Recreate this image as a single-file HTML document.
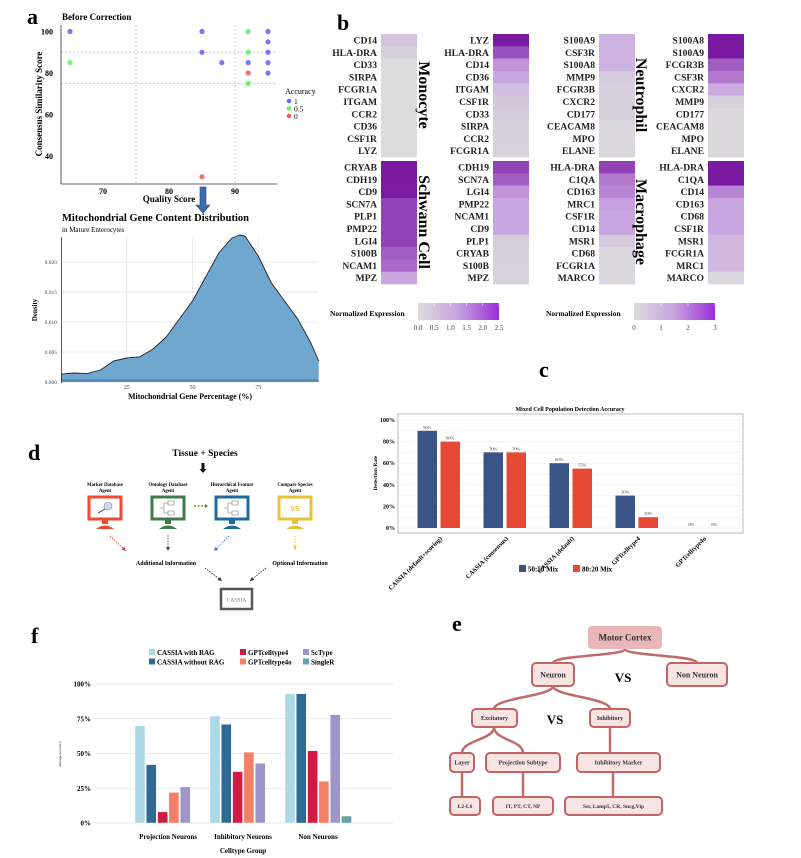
<!DOCTYPE html>
<html><head><meta charset="utf-8">
<style>
html,body{margin:0;padding:0;background:#fff;}
svg{display:block;font-family:"Liberation Serif",serif;}
.b{font-weight:bold;}
</style></head>
<body>
<svg id="fig" width="801" height="858" viewBox="0 0 801 858" xmlns="http://www.w3.org/2000/svg">
<text x="27" y="24" font-size="22" class="b">a</text>
<text x="337" y="30" font-size="22" class="b">b</text>
<text x="539" y="377" font-size="22" class="b">c</text>
<text x="28" y="460" font-size="22" class="b">d</text>
<text x="452" y="631" font-size="22" class="b">e</text>
<text x="31" y="643" font-size="22" class="b">f</text>

<g id="scatter"></g>
<g id="density"></g>
<g id="heat"></g>
<g id="barc"></g>
<g id="diagd"></g>
<g id="barf"></g>
<g id="treee"></g>
</svg>
<script>
// ===== data =====
const scatterX = [65,65,85,85,88,85,92,92,92,92,92,95,95,95,95,95];
const scatterY = [100,85,100,90,85,30,100,90,85,80,75,100,95,90,85,80];
const scatterAcc = [1,0.5,1,1,1,0,0.5,0.5,1,0,0.5,1,1,1,1,1];
const scatterXTicks = [70,80,90];
const scatterYTicks = [40,60,80,100];

const densX = [0,5,10,15,20,25,30,35,40,45,50,55,60,65,68,70,75,80,85,90,95,98];
const densY = [0.0013,0.0015,0.0014,0.002,0.0035,0.004,0.0042,0.0055,0.0075,0.0105,0.0135,0.0175,0.0215,0.024,0.0245,0.0243,0.021,0.0165,0.0135,0.0105,0.0065,0.0035];
const densXTicks = [25,50,75];
const densYTicks = [0,0.005,0.01,0.015,0.02];

const hmGenes = [
 ["CD14","HLA-DRA","CD33","SIRPA","FCGR1A","ITGAM","CCR2","CD36","CSF1R","LYZ"],
 ["LYZ","HLA-DRA","CD14","CD36","ITGAM","CSF1R","CD33","SIRPA","CCR2","FCGR1A"],
 ["S100A9","CSF3R","S100A8","MMP9","FCGR3B","CXCR2","CD177","CEACAM8","MPO","ELANE"],
 ["S100A8","S100A9","FCGR3B","CSF3R","CXCR2","MMP9","CD177","CEACAM8","MPO","ELANE"],
 ["CRYAB","CDH19","CD9","SCN7A","PLP1","PMP22","LGI4","S100B","NCAM1","MPZ"],
 ["CDH19","SCN7A","LGI4","PMP22","NCAM1","CD9","PLP1","CRYAB","S100B","MPZ"],
 ["HLA-DRA","C1QA","CD163","MRC1","CSF1R","CD14","MSR1","CD68","FCGR1A","MARCO"],
 ["HLA-DRA","C1QA","CD14","CD163","CD68","CSF1R","MSR1","FCGR1A","MRC1","MARCO"]];
const hmValues = [
 [0.2,0.1,0,0,0,0,0,0,0,0],
 [1,0.8,0.55,0.45,0.25,0.18,0.15,0.1,0.1,0.08],
 [0.35,0.35,0.35,0.15,0.1,0.1,0.1,0.05,0.05,0.05],
 [1,1,0.75,0.65,0.4,0.1,0.03,0.03,0.03,0.03],
 [1,1,1,0.85,0.85,0.85,0.85,0.75,0.7,0.45],
 [0.85,0.75,0.55,0.45,0.45,0.45,0.12,0.1,0.08,0.08],
 [0.85,0.65,0.6,0.5,0.45,0.45,0.15,0.05,0.05,0.05],
 [1,1,0.6,0.45,0.45,0.45,0.3,0.3,0.3,0.05]];
const hmGroups = ["Monocyte","Neutrophil","Schwann Cell","Macrophage"];
const legTicks1 = ["0.0","0.5","1.0","1.5","2.0","2.5"];
const legTicks2 = ["0","1","2","3"];

const cCats = ["CASSIA (default+scoring)","CASSIA (consensus)","CASSIA (default)","GPTcelltype4","GPTcelltype4o"];
const cMix5050 = [90,70,60,30,0];
const cMix8020 = [80,70,55,10,0];
const cYTicks = [0,20,40,60,80,100];

const fGroups = ["Projection Neurons","Inhibitory Neurons","Non Neurons"];
const fMethods = ["CASSIA with RAG","CASSIA without RAG","GPTcelltype4","GPTcelltype4o","ScType","SingleR"];
const fWithRAG = [70,77,93];
const fWithoutRAG = [42,71,93];
const fGPT4 = [8,37,52];
const fGPT4o = [22,51,30];
const fScType = [26,43,78];
const fSingleR = [0,0,5];
const fYTicks = [0,25,50,75,100];

const NS="http://www.w3.org/2000/svg";
function mk(tag,attrs,parent,txt){const e=document.createElementNS(NS,tag);for(const k in attrs)e.setAttribute(k,attrs[k]);if(txt!==undefined)e.textContent=txt;parent.appendChild(e);return e;}

// ===== panel a scatter =====
(function(){
 const g=document.getElementById('scatter');
 const sx=v=>103+(v-70)*6.6, sy=v=>31.5+(100-v)*2.075;
 mk('text',{x:62,y:20,'font-size':9,'font-weight':'bold'},g,'Before Correction');
 [75,90].forEach(v=>{const l=mk('line',{x1:sx(v),x2:sx(v),y1:25,y2:183,stroke:'#bbb','stroke-dasharray':'2,2','stroke-width':0.7},g);
 
 });
 [90,75].forEach(v=>{const l=mk('line',{x1:61,x2:277,y1:sy(v),y2:sy(v),stroke:'#bbb','stroke-dasharray':'2,2','stroke-width':0.7},g);
 
 });
 mk('line',{x1:61,x2:61,y1:25,y2:184,stroke:'#333','stroke-width':0.8},g);
 mk('line',{x1:61,x2:277,y1:184,y2:184,stroke:'#333','stroke-width':0.8},g);
 scatterXTicks.forEach(v=>{const t=mk('text',{x:sx(v),y:194,'font-size':8,'font-weight':'bold','text-anchor':'middle'},g,v);
 
 });
 scatterYTicks.forEach(v=>{const t=mk('text',{x:53,y:sy(v)+3,'font-size':8,'font-weight':'bold','text-anchor':'end'},g,v);
 
 });
 const xt=mk('text',{x:169,y:202,'font-size':9,'font-weight':'bold','text-anchor':'middle'},g,'Quality Score');
 
 
 const yt=mk('text',{x:0,y:0,'font-size':9,'font-weight':'bold','text-anchor':'middle',transform:'translate(42,104) rotate(-90)'},g,'Consensus Similarity Score');
 
 
 const col=a=>a===1?'#6a6af5':(a===0.5?'#66ee66':'#f06060');
 scatterX.forEach((x,i)=>{const c=mk('circle',{cx:sx(x),cy:sy(scatterY[i]),r:2.6,fill:col(scatterAcc[i]),'fill-opacity':0.9},g);
 
 });
 mk('text',{x:285,y:94,'font-size':8},g,'Accuracy');
 [['1','#6a6af5'],['0.5','#66ee66'],['0','#f06060']].forEach((e,i)=>{
  const c=mk('circle',{cx:289,cy:101+i*7.5,r:2.3,fill:e[1]},g);
  
  
  mk('text',{x:294,y:104+i*7.5,'font-size':7.5},g,e[0]);});
 const ar=mk('path',{d:'M200,187 h6 v18 h4 l-7,8 l-7,-8 h4 z',fill:'#3c6bb0',stroke:'#24447a','stroke-width':0.6},g);
 
 
})();

// ===== density =====
(function(){
 const g=document.getElementById('density');
 const sx=v=>61+v*2.63, sy=v=>382-v*6000;
 mk('text',{x:62,y:221,'font-size':10.5,'font-weight':'bold'},g,'Mitochondrial Gene Content Distribution');
 mk('text',{x:62,y:232,'font-size':7},g,'in Mature Enterocytes');
 densXTicks.forEach(v=>mk('line',{x1:sx(v),x2:sx(v),y1:237,y2:382,stroke:'#e4e4e4','stroke-width':0.8},g));
 densYTicks.forEach(v=>{mk('line',{x1:62,x2:318,y1:sy(v),y2:sy(v),stroke:'#e4e4e4','stroke-width':0.8},g);
  const t=mk('text',{x:57,y:sy(v)+2,'font-size':5.5,'text-anchor':'end',fill:'#444'},g,v.toFixed(3));
  
  });
 let d='M'+sx(densX[0])+','+sy(0)+' L'+sx(densX[0])+','+sy(densY[0]);
 let line='M'+sx(densX[0])+','+sy(densY[0]);
 for(let i=1;i<densX.length;i++){d+=' L'+sx(densX[i])+','+sy(densY[i]);line+=' L'+sx(densX[i])+','+sy(densY[i]);}
 d+=' L'+sx(densX[densX.length-1])+','+sy(0)+' Z';
 const a=mk('path',{d:d,fill:'#6fa7cf'},g);
 
 
 const l=mk('path',{d:line,fill:'none',stroke:'#222','stroke-width':0.9,'stroke-linejoin':'round'},g);
 
 
 const rug=mk('rect',{x:62,y:379,width:256,height:3,fill:'#4a7fb0','fill-opacity':0.7},g);
 
 
 mk('line',{x1:61.5,x2:61.5,y1:237,y2:383,stroke:'#333','stroke-width':0.8},g);
 densXTicks.forEach(v=>{const t=mk('text',{x:sx(v),y:389,'font-size':6,'text-anchor':'middle',fill:'#444'},g,v);
  
  });
 mk('text',{x:190,y:399,'font-size':8,'font-weight':'bold','text-anchor':'middle'},g,'Mitochondrial Gene Percentage (%)');
 mk('text',{x:0,y:0,'font-size':7,'font-weight':'bold','text-anchor':'middle',transform:'translate(37,310) rotate(-90)'},g,'Density');
})();

// ===== heatmaps =====
(function(){
 const g=document.getElementById('heat');
 function col(v){const a=[220,220,220],m=[200,160,225],b=[122,26,160];let c;
  if(v<0.5){const t=v/0.5;c=a.map((x,i)=>x+(m[i]-x)*t);}else{const t=(v-0.5)/0.5;c=m.map((x,i)=>x+(b[i]-x)*t);}
  return 'rgb('+c.map(Math.round).join(',')+')';}
 const colX=[381,493,599,708], blockY=[34,161], rh=12.3, w=36;
 for(let k=0;k<8;k++){
  const cx=colX[k%4], y0=blockY[Math.floor(k/4)];
  hmGenes[k].forEach((gn,i)=>{
   const r=mk('rect',{x:cx,y:y0+i*rh,width:w,height:rh+0.3,fill:col(hmValues[k][i])},g);
   
   
   const t=mk('text',{x:cx-4,y:y0+i*rh+9.5,'font-size':9.6,'font-weight':'bold','text-anchor':'end',fill:'#222'},g,gn);
   
   
  });
 }
 const gp=[[424,95],[641,95],[424,222],[641,222]];
 hmGroups.forEach((n,i)=>{const t=mk('text',{x:0,y:0,'font-size':16,'font-weight':'bold','text-anchor':'middle',transform:'translate('+(gp[i][0]-5)+','+gp[i][1]+') rotate(90)'},g,n);
  
  });
 const defs=mk('defs',{},g);
 const lg=mk('linearGradient',{id:'hg',x1:0,x2:1,y1:0,y2:0},defs);
 mk('stop',{offset:0,'stop-color':'#dcdcdc'},lg);mk('stop',{offset:0.5,'stop-color':'#c8a2e0'},lg);mk('stop',{offset:1,'stop-color':'#9a30d8'},lg);
 [[330,418,legTicks1],[546,634,legTicks2]].forEach(L=>{
  mk('text',{x:L[0],y:316,'font-size':7.5,'font-weight':'bold'},g,'Normalized Expression');
  const r=mk('rect',{x:L[1],y:303,width:81,height:17,fill:'url(#hg)'},g);
  
  
  L[2].forEach((t,i)=>{const x=L[1]+i*81/(L[2].length-1);
   mk('line',{x1:x,x2:x,y1:303,y2:306,stroke:'#fff','stroke-width':0.6},g);
   mk('text',{x:x,y:330,'font-size':7,'text-anchor':'middle',fill:'#444'},g,t);});
 });
})();

// ===== panel c =====
(function(){
 const g=document.getElementById('barc');
 const sy=v=>528-v*1.08, gx=i=>438.5+i*66;
 mk('text',{x:570,y:411,'font-size':6,'font-weight':'bold','text-anchor':'middle'},g,'Mixed Cell Population Detection Accuracy');
 mk('rect',{x:398,y:414,width:345,height:119,fill:'#fff',stroke:'#aaa','stroke-width':0.8},g);
 for(let v=0;v<=100;v+=10) mk('line',{x1:398,x2:743,y1:sy(v),y2:sy(v),stroke:'#eee','stroke-width':0.6},g);
 cYTicks.forEach(v=>{const t=mk('text',{x:395,y:sy(v)+2,'font-size':6,'font-weight':'bold','text-anchor':'end'},g,v+'%');
  
  });
 mk('text',{x:0,y:0,'font-size':5.5,'font-weight':'bold','text-anchor':'middle',transform:'translate(377,473) rotate(-90)'},g,'Detection Rate');
 cCats.forEach((c,i)=>{
  [[cMix5050[i],'#3b5486',-21],[cMix8020[i],'#e64a35',2]].forEach(s=>{
   const r=mk('rect',{x:gx(i)+s[2],y:sy(s[0]),width:19.5,height:s[0]*1.08,fill:s[1]},g);
   
   
   mk('text',{x:gx(i)+s[2]+9.75,y:sy(s[0])-2,'font-size':4.5,'text-anchor':'middle',fill:'#444'},g,s[0]+'%');
  });
  const t=mk('text',{x:0,y:0,'font-size':6.5,'font-weight':'bold','text-anchor':'end',transform:'translate('+(gx(i)+4)+',539) rotate(-45)'},g,c);
  
  
 });
 [['50:50 Mix','#3b5486',519],['80:20 Mix','#e64a35',573]].forEach(e=>{
  const r=mk('rect',{x:e[2],y:565,width:7,height:7,fill:e[1]},g);
  
  
  mk('text',{x:e[2]+9,y:571.5,'font-size':7,'font-weight':'bold'},g,e[0]);});
})();

// ===== panel d =====
(function(){
 const g=document.getElementById('diagd');
 mk('text',{x:205,y:456,'font-size':9.5,'font-weight':'bold','text-anchor':'middle'},g,'Tissue + Species');
 mk('path',{d:'M201.5,463 h3 v6 h2 l-3.5,4 l-3.5,-4 h2 z',fill:'#111'},g);
 const agents=[['Marker Database','Agent','#f04a35',105],['Ontology Database','Agent','#3d7a4c',168],['Hierarchical Feature','Agent','#1e6aa0',232],['Compare Species','Agent','#e8c236',295]];
 agents.forEach((a,i)=>{
  mk('text',{x:a[3],y:486,'font-size':4.8,'font-weight':'bold','text-anchor':'middle'},g,a[0]);
  mk('text',{x:a[3],y:492,'font-size':4.8,'font-weight':'bold','text-anchor':'middle'},g,a[1]);
  const m=mk('rect',{x:a[3]-16,y:497,width:32,height:22,fill:'#fff',stroke:a[2],'stroke-width':3},g);
  
  
  mk('rect',{x:a[3]-3,y:520,width:6,height:4,fill:a[2]},g);
  mk('path',{d:'M'+(a[3]-9)+',529 q9,-7 18,0 z',fill:a[2]},g);
  if(i===0){mk('circle',{cx:a[3]+3,cy:506,r:4,fill:'#cde',stroke:'#888','stroke-width':0.6},g);mk('line',{x1:a[3]-7,y1:513,x2:a[3],y2:509,stroke:'#333','stroke-width':1},g);}
  if(i===1||i===2){mk('path',{d:'M'+(a[3]-8)+',508 h4 M'+(a[3]-4)+',503 v10 M'+(a[3]-4)+',503 h4 M'+(a[3]-4)+',513 h4 M'+a[3]+',501 h6 v4 h-6 z M'+a[3]+',511 h6 v4 h-6 z',fill:'none',stroke:'#777','stroke-width':0.6},g);}
  if(i===3) mk('text',{x:a[3],y:511,'font-size':7,'font-weight':'bold','text-anchor':'middle',fill:a[2],'font-family':'Liberation Sans'},g,'VS');
 });
 mk('line',{x1:194,y1:506,x2:205,y2:506,stroke:'#5a7a2a','stroke-width':1.2,'stroke-dasharray':'2,1.5'},g);
 mk('path',{d:'M205,504 l3,2 l-3,2 z',fill:'#5a7a2a'},g);
 const arr=[[110,536,126,551,'#e04030'],[168,535,168,551,'#2f5a36'],[229,536,214,551,'#3a80c8'],[295,536,295,550,'#e8c236'],[205,568,222,581,'#333'],[266,568,250,581,'#333']];
 arr.forEach(a=>{mk('line',{x1:a[0],y1:a[1],x2:a[2],y2:a[3],stroke:a[4],'stroke-width':0.9,'stroke-dasharray':'1.5,1.2'},g);
  const ang=Math.atan2(a[3]-a[1],a[2]-a[0]);
  const p=(d,o)=>[a[2]-Math.cos(ang)*d-Math.sin(ang)*o,a[3]-Math.sin(ang)*d+Math.cos(ang)*o];
  const p1=p(4,2),p2=p(4,-2);
  mk('path',{d:'M'+a[2]+','+a[3]+' L'+p1.join(',')+' L'+p2.join(',')+' Z',fill:a[4]},g);});
 mk('text',{x:166,y:565,'font-size':6,'font-weight':'bold','text-anchor':'middle'},g,'Additional Information');
 mk('text',{x:300,y:565,'font-size':6,'font-weight':'bold','text-anchor':'middle'},g,'Optional Information');
 const cb=mk('rect',{x:221,y:589,width:31,height:20,fill:'#fff',stroke:'#555','stroke-width':2.5},g);
 
 
 mk('text',{x:236.5,y:601.5,'font-size':5.5,'text-anchor':'middle',fill:'#777'},g,'CASSIA');
})();

// ===== panel f =====
(function(){
 const g=document.getElementById('barf');
 const sy=v=>823-v*1.39, bx=(gi,mi)=>135+gi*75+mi*11.3;
 const series=[fWithRAG,fWithoutRAG,fGPT4,fGPT4o,fScType,fSingleR];
 const cols=['#add8e6','#2e6a94','#d01c45','#f28068','#9e95c8','#6a9ea8'];
 fYTicks.forEach(v=>{mk('line',{x1:95,x2:393,y1:sy(v),y2:sy(v),stroke:'#e2e2e2','stroke-width':0.8},g);
  const t=mk('text',{x:91,y:sy(v)+2.5,'font-size':7,'font-weight':'bold','text-anchor':'end'},g,v+'%');
  
  });
 mk('text',{x:0,y:0,'font-size':3.5,'text-anchor':'middle',transform:'translate(61,754) rotate(-90)'},g,'Average Accuracy');
 fGroups.forEach((gn,gi)=>{
  series.forEach((s,mi)=>{if(s[gi]<=0)return;
   const r=mk('rect',{x:bx(gi,mi),y:sy(s[gi]),width:10,height:s[gi]*1.39,fill:cols[mi],stroke:'#fff','stroke-width':0.4},g);
   
   });
  const t=mk('text',{x:bx(gi,0)+33,y:839,'font-size':7,'font-weight':'bold','text-anchor':'middle'},g,gn);
  
  
 });
 mk('text',{x:243,y:853,'font-size':7,'font-weight':'bold','text-anchor':'middle'},g,'Celltype Group');
 const lx=[149,240,303];
 fMethods.forEach((m,i)=>{const x=lx[Math.floor(i/2)], y=655+(i%2)*9.5;
  const r=mk('rect',{x:x,y:y-6,width:6,height:6,fill:cols[i]},g);
  
  
  mk('text',{x:x+8,y:y,'font-size':7,'font-weight':'bold'},g,m);});
})();

// ===== panel e =====
(function(){
 const g=document.getElementById('treee');
 const ln='#c06a6a';
 const edges=['M625,649 C625,656 553,655 553,663','M625,649 C625,656 697,655 697,663','M553,686 C553,696 494,698 494,709','M553,686 C553,696 610,698 610,709',
  'M494,727 C494,740 462,740 462,753','M494,727 C494,740 523,740 523,753','M610,727 L610,753','M462,772 L462,797','M523,772 L523,797','M613,772 L613,797'];
 edges.forEach(d=>{const p=mk('path',{d:d,fill:'none',stroke:ln,'stroke-width':2.5},g);
  
  });
 const nodes=[['Motor Cortex',588,626,74,23,9,true],['Neuron',532,663,42,23,8,false],['Non Neuron',667,663,60,23,8,false],
  ['Excitatory',472,709,45,18,6,false],['Inhibitory',590,709,40,18,6,false],['Layer',450,753,24,19,6,false],
  ['Projection Subtype',486,753,74,19,6,false],['Inhibitory Marker',577,753,83,19,6,false],['L2-L6',450,797,30,18,5.5,false],
  ['IT, PT, CT, NP',493,797,60,18,5.5,false],['Sst, Lamp5, CR, Sncg,Vip',565,797,97,18,5.5,false]];
 nodes.forEach(n=>{
  const r=mk('rect',{x:n[1],y:n[2],width:n[3],height:n[4],rx:4,fill:n[6]?'#e9b7b7':'#f9e4e4',stroke:n[6]?'none':'#c46464','stroke-width':2},g);
  
  
  mk('text',{x:n[1]+n[3]/2,y:n[2]+n[4]/2+n[5]*0.35,'font-size':n[5],'font-weight':'bold','text-anchor':'middle',fill:'#333'},g,n[0]);
 });
 mk('text',{x:623,y:682,'font-size':13,'font-weight':'bold','text-anchor':'middle'},g,'VS');
 mk('text',{x:555,y:724,'font-size':13,'font-weight':'bold','text-anchor':'middle'},g,'VS');
})();
</script>
</body></html>
